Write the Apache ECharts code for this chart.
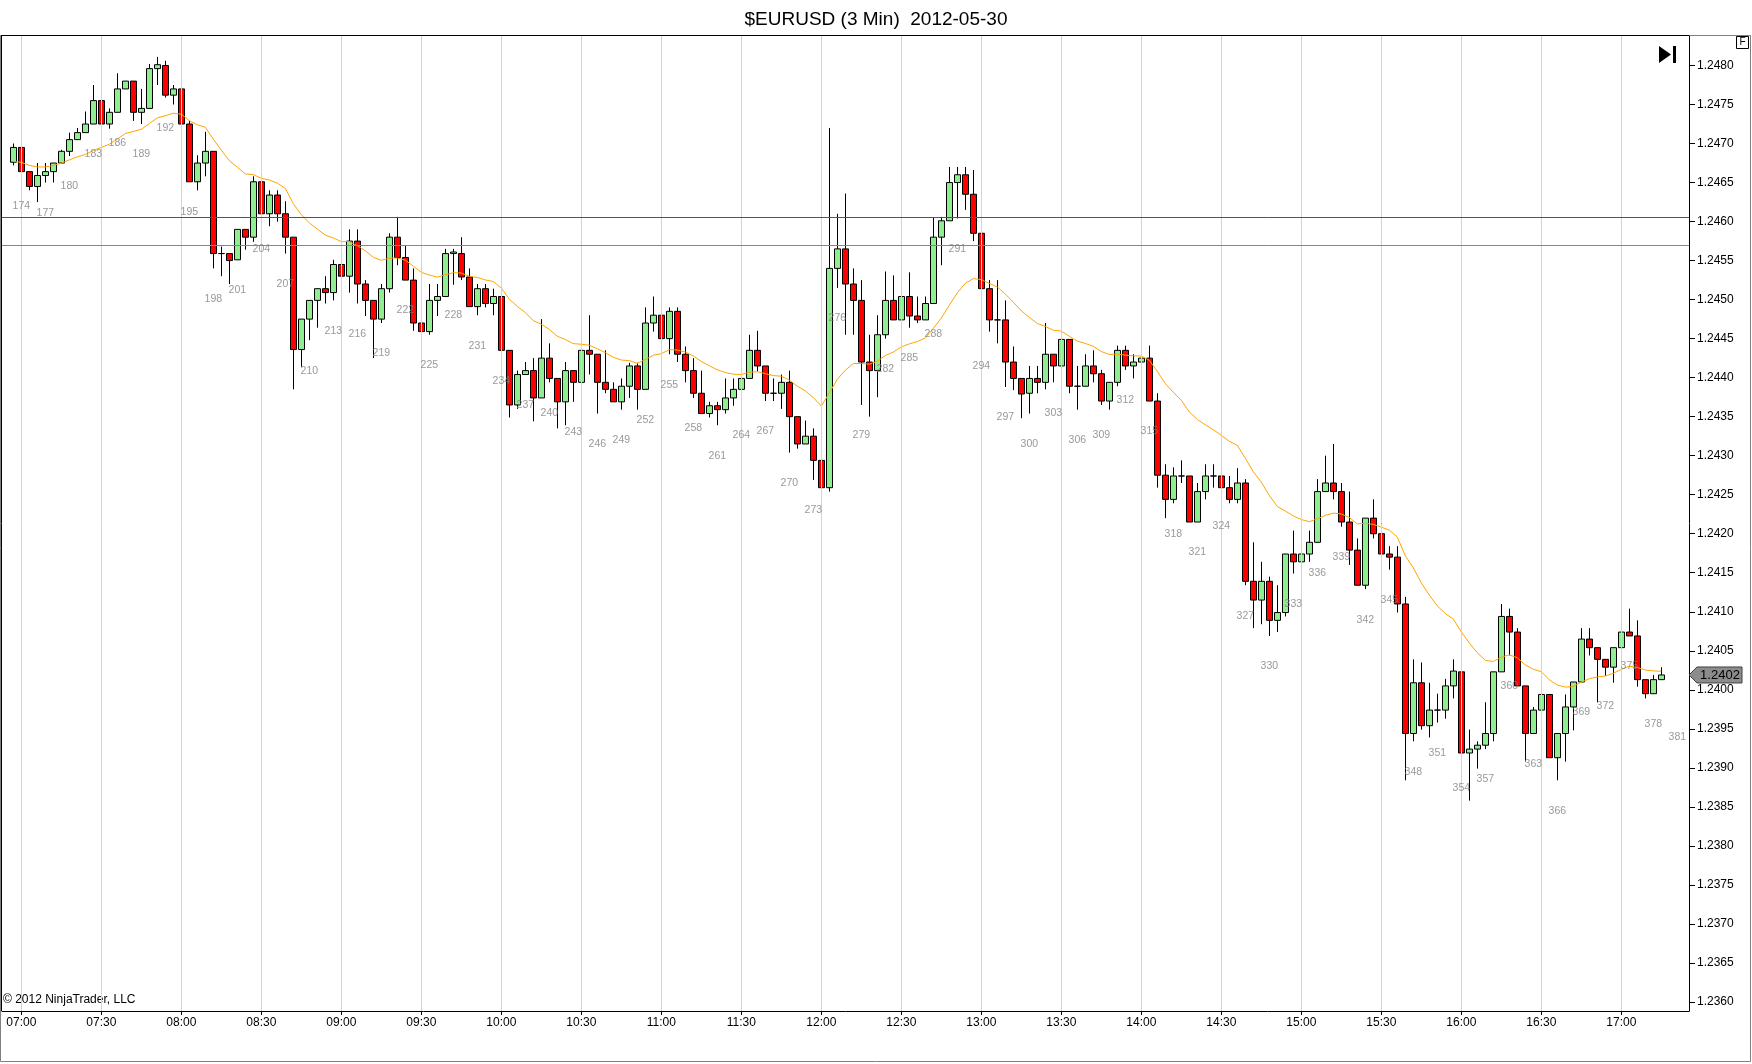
<!DOCTYPE html>
<html><head><meta charset="utf-8">
<script src="https://cdn.jsdelivr.net/npm/echarts@6/dist/echarts.min.js"></script>
<style>html,body{margin:0;padding:0;background:#fff}#c{width:1752px;height:1064px}</style>
</head><body><div id="c"></div>
<script>
// ---------------- data (bar numbers 173..379, 3-minute bars) ----------------
const firstBar = 173;
const opens = [
1.24676,1.24695,1.24664,1.24645,1.24659,1.24664,1.24675,1.24690,1.24705,1.24714,
1.24725,1.24755,1.24725,1.24740,1.24770,1.24780,1.24740,1.24745,1.24796,1.24800,
1.24762,1.24770,1.24725,1.24651,1.24675,1.24690,1.24559,1.24559,1.24551,1.24590,
1.24580,1.24651,1.24610,1.24634,1.24610,1.24580,1.24436,1.24475,1.24499,1.24514,
1.24509,1.24545,1.24530,1.24575,1.24520,1.24499,1.24475,1.24514,1.24580,1.24554,
1.24525,1.24470,1.24459,1.24499,1.24504,1.24559,1.24559,1.24529,1.24491,1.24514,
1.24495,1.24504,1.24435,1.24365,1.24404,1.24409,1.24374,1.24425,1.24399,1.24369,
1.24409,1.24394,1.24435,1.24430,1.24394,1.24385,1.24369,1.24389,1.24415,1.24385,
1.24470,1.24480,1.24450,1.24485,1.24430,1.24409,1.24380,1.24354,1.24364,1.24359,
1.24374,1.24385,1.24399,1.24435,1.24415,1.24380,1.24380,1.24394,1.24350,1.24315,
1.24325,1.24294,1.24259,1.24540,1.24565,1.24520,1.24499,1.24420,1.24409,1.24455,
1.24499,1.24474,1.24504,1.24479,1.24474,1.24495,1.24580,1.24601,1.24650,1.24660,
1.24635,1.24585,1.24514,1.24474,1.24474,1.24420,1.24399,1.24380,1.24399,1.24394,
1.24430,1.24415,1.24449,1.24389,1.24389,1.24415,1.24405,1.24370,1.24394,1.24435,
1.24415,1.24420,1.24425,1.24370,1.24275,1.24244,1.24274,1.24274,1.24215,1.24254,
1.24274,1.24274,1.24259,1.24244,1.24265,1.24139,1.24115,1.24139,1.24089,1.24099,
1.24174,1.24164,1.24174,1.24189,1.24254,1.24265,1.24254,1.24215,1.24179,1.24134,
1.24220,1.24200,1.24174,1.24170,1.24110,1.23944,1.24009,1.23954,1.23974,1.23974,
1.24005,1.24023,1.23919,1.23924,1.23929,1.23944,1.24023,1.24094,1.24074,1.24005,
1.23944,1.23974,1.23994,1.23913,1.23944,1.23978,1.24010,1.24065,1.24054,1.24039,
1.24029,1.24054,1.24074,1.24069,1.24013,1.23995,1.24013
];
const highs = [
1.24700,1.24695,1.24664,1.24675,1.24675,1.24675,1.24692,1.24714,1.24720,1.24741,
1.24775,1.24755,1.24745,1.24790,1.24780,1.24780,1.24770,1.24802,1.24811,1.24806,
1.24775,1.24772,1.24729,1.24685,1.24715,1.24690,1.24568,1.24559,1.24590,1.24590,
1.24658,1.24658,1.24640,1.24640,1.24626,1.24580,1.24475,1.24499,1.24514,1.24530,
1.24551,1.24601,1.24590,1.24590,1.24525,1.24499,1.24520,1.24585,1.24606,1.24570,
1.24540,1.24491,1.24520,1.24520,1.24565,1.24565,1.24580,1.24540,1.24520,1.24520,
1.24514,1.24509,1.24435,1.24409,1.24420,1.24425,1.24475,1.24444,1.24399,1.24420,
1.24409,1.24444,1.24480,1.24430,1.24435,1.24394,1.24399,1.24419,1.24419,1.24490,
1.24504,1.24499,1.24490,1.24490,1.24440,1.24425,1.24409,1.24369,1.24369,1.24399,
1.24399,1.24399,1.24455,1.24460,1.24415,1.24399,1.24404,1.24409,1.24350,1.24345,
1.24335,1.24299,1.24720,1.24610,1.24636,1.24540,1.24525,1.24455,1.24480,1.24536,
1.24531,1.24525,1.24535,1.24504,1.24504,1.24605,1.24606,1.24670,1.24670,1.24670,
1.24666,1.24605,1.24525,1.24525,1.24499,1.24440,1.24399,1.24415,1.24415,1.24470,
1.24430,1.24455,1.24449,1.24415,1.24430,1.24435,1.24410,1.24394,1.24441,1.24441,
1.24430,1.24430,1.24441,1.24380,1.24289,1.24285,1.24294,1.24274,1.24265,1.24289,
1.24289,1.24285,1.24274,1.24284,1.24270,1.24189,1.24164,1.24145,1.24134,1.24174,
1.24204,1.24194,1.24204,1.24270,1.24300,1.24315,1.24265,1.24254,1.24194,1.24220,
1.24244,1.24220,1.24184,1.24184,1.24119,1.24039,1.24035,1.24009,1.23995,1.24014,
1.24039,1.24028,1.23949,1.23934,1.23984,1.24023,1.24110,1.24104,1.24079,1.24005,
1.23978,1.24005,1.23994,1.23944,1.23994,1.24010,1.24079,1.24079,1.24054,1.24039,
1.24054,1.24095,1.24104,1.24089,1.24013,1.24019,1.24029
];
const lows = [
1.24672,1.24659,1.24640,1.24625,1.24650,1.24650,1.24675,1.24684,1.24705,1.24714,
1.24725,1.24719,1.24719,1.24740,1.24770,1.24729,1.24725,1.24745,1.24775,1.24759,
1.24750,1.24719,1.24651,1.24640,1.24658,1.24540,1.24530,1.24520,1.24551,1.24564,
1.24574,1.24604,1.24594,1.24600,1.24559,1.24385,1.24414,1.24448,1.24464,1.24495,
1.24499,1.24530,1.24509,1.24495,1.24479,1.24425,1.24470,1.24509,1.24544,1.24525,
1.24460,1.24444,1.24455,1.24479,1.24504,1.24519,1.24525,1.24491,1.24480,1.24490,
1.24480,1.24435,1.24349,1.24360,1.24404,1.24344,1.24374,1.24394,1.24335,1.24339,
1.24369,1.24394,1.24404,1.24354,1.24380,1.24369,1.24359,1.24374,1.24359,1.24385,
1.24459,1.24444,1.24430,1.24420,1.24394,1.24374,1.24354,1.24349,1.24339,1.24354,
1.24364,1.24365,1.24399,1.24408,1.24370,1.24370,1.24360,1.24304,1.24309,1.24315,
1.24269,1.24244,1.24254,1.24515,1.24455,1.24455,1.24365,1.24350,1.24375,1.24450,
1.24474,1.24470,1.24464,1.24470,1.24474,1.24495,1.24544,1.24601,1.24604,1.24615,
1.24575,1.24454,1.24459,1.24444,1.24388,1.24384,1.24348,1.24354,1.24380,1.24385,
1.24394,1.24415,1.24380,1.24359,1.24389,1.24394,1.24365,1.24359,1.24389,1.24410,
1.24399,1.24389,1.24370,1.24259,1.24220,1.24239,1.24265,1.24215,1.24215,1.24244,
1.24259,1.24249,1.24239,1.24239,1.24134,1.24079,1.24084,1.24069,1.24074,1.24094,
1.24149,1.24159,1.24164,1.24189,1.24254,1.24244,1.24209,1.24160,1.24134,1.24129,
1.24194,1.24164,1.24154,1.24099,1.23884,1.23934,1.23949,1.23939,1.23958,1.23963,
1.23989,1.23913,1.23858,1.23899,1.23924,1.23934,1.24023,1.24044,1.24005,1.23908,
1.23944,1.23958,1.23913,1.23884,1.23908,1.23948,1.24010,1.24044,1.23984,1.24018,
1.24009,1.24054,1.24069,1.24004,1.23989,1.23995,1.24013
];
const closes = [
1.24695,1.24664,1.24645,1.24659,1.24664,1.24675,1.24690,1.24705,1.24714,1.24725,
1.24755,1.24725,1.24740,1.24770,1.24780,1.24740,1.24745,1.24796,1.24801,1.24762,
1.24770,1.24725,1.24651,1.24675,1.24690,1.24559,1.24559,1.24550,1.24590,1.24580,
1.24651,1.24610,1.24634,1.24610,1.24580,1.24436,1.24475,1.24499,1.24514,1.24509,
1.24545,1.24530,1.24575,1.24520,1.24499,1.24475,1.24514,1.24580,1.24554,1.24525,
1.24470,1.24459,1.24499,1.24504,1.24559,1.24561,1.24529,1.24491,1.24514,1.24495,
1.24504,1.24435,1.24365,1.24404,1.24409,1.24374,1.24425,1.24399,1.24369,1.24409,
1.24394,1.24435,1.24430,1.24394,1.24385,1.24369,1.24389,1.24415,1.24385,1.24470,
1.24480,1.24450,1.24485,1.24430,1.24409,1.24380,1.24354,1.24364,1.24359,1.24374,
1.24385,1.24399,1.24435,1.24415,1.24380,1.24380,1.24394,1.24350,1.24315,1.24325,
1.24294,1.24259,1.24540,1.24565,1.24520,1.24499,1.24420,1.24409,1.24455,1.24499,
1.24474,1.24504,1.24479,1.24474,1.24495,1.24580,1.24601,1.24650,1.24660,1.24635,
1.24585,1.24514,1.24474,1.24474,1.24420,1.24399,1.24379,1.24399,1.24394,1.24430,
1.24415,1.24449,1.24389,1.24389,1.24415,1.24405,1.24370,1.24394,1.24435,1.24415,
1.24420,1.24425,1.24370,1.24275,1.24244,1.24274,1.24274,1.24215,1.24254,1.24274,
1.24274,1.24259,1.24244,1.24265,1.24139,1.24115,1.24139,1.24089,1.24099,1.24174,
1.24164,1.24174,1.24189,1.24254,1.24265,1.24254,1.24215,1.24179,1.24134,1.24220,
1.24200,1.24174,1.24170,1.24110,1.23944,1.24009,1.23954,1.23974,1.23974,1.24005,
1.24024,1.23919,1.23924,1.23929,1.23944,1.24023,1.24094,1.24074,1.24005,1.23944,
1.23974,1.23994,1.23913,1.23944,1.23978,1.24010,1.24065,1.24054,1.24039,1.24029,
1.24054,1.24074,1.24069,1.24013,1.23995,1.24013,1.24019
];
// moving-average values for the first bars (earlier bars are off-screen)
const maHead = [1.24677,1.24676,1.24672,1.24670,1.24670,1.24672,1.24675,1.24679,1.24683,1.24686,1.24691,1.24695,1.24699];
const maPeriod = 20;
const timeTickLabels = ['07:00','07:30','08:00','08:30','09:00','09:30','10:00','10:30','11:00','11:30','12:00','12:30','13:00','13:30','14:00','14:30','15:00','15:30','16:00','16:30','17:00'];
const firstTickBar = 174, barsPerTick = 10;
const priceTicks = [1.2360,1.2365,1.2370,1.2375,1.2380,1.2385,1.2390,1.2395,1.2400,1.2405,1.2410,1.2415,1.2420,1.2425,1.2430,1.2435,1.2440,1.2445,1.2450,1.2455,1.2460,1.2465,1.2470,1.2475,1.2480];
const levelLines = [1.24605, 1.24570];
const labelEvery = 3, firstLabelBar = 174;
const extraBarLabels = [[381, 1.23979]];
// -------------------------------------------------------------------------

const bars = opens.map((_, i) => firstBar + i);
const candleData = bars.map((b, i) => [b, opens[i], closes[i], lows[i], highs[i]]);
// exponential moving average of the closes, continuing from the values read at the left edge
function expMovingAverage(vals, period, head) {
  const k = 2 / (period + 1);
  const out = [];
  vals.forEach((v, i) => {
    out.push(i < head.length ? head[i] : out[i - 1] + k * (v - out[i - 1]));
  });
  return out;
}
const maVals = expMovingAverage(closes, maPeriod, maHead);
const maData = bars.map((b, i) => [b, maVals[i]]);
const timeTickBars = timeTickLabels.map((_, i) => firstTickBar + i * barsPerTick);
const labelData = bars.filter(b => b >= firstLabelBar && (b - firstLabelBar) % labelEvery === 0)
  .map(b => [b, lows[b - firstBar], b]).concat(extraBarLabels.map(e => [e[0], e[1], e[0]]));

const FONT = '"Liberation Sans", Arial, sans-serif';
const chart = echarts.init(document.getElementById('c'), null, {renderer: 'canvas'});
const option = {
  animation: false,
  backgroundColor: '#ffffff',
  title: {
    text: '$EURUSD (3 Min)  2012-05-30', left: 'center', top: 5,
    textStyle: {fontFamily: FONT, fontSize: 19, fontWeight: 'normal', color: '#000'}
  },
  grid: {left: 2, right: 63, top: 36, bottom: 53, show: false},
  xAxis: {
    type: 'value', min: 171.5875, max: 382.4625, scale: true,
    axisLine: {show: true, lineStyle: {color: '#000', width: 1}},
    axisTick: {show: true, length: 4, customValues: timeTickBars, lineStyle: {color: '#000'}},
    axisLabel: {
      customValues: timeTickBars, margin: 6,
      formatter: v => timeTickLabels[Math.round((v - firstTickBar) / barsPerTick)] || '',
      fontFamily: FONT, fontSize: 12, color: '#000'
    },
    splitLine: {show: false}
  },
  yAxis: {
    type: 'value', position: 'right', min: 1.235884, max: 1.248378, scale: true,
    axisLine: {show: true, lineStyle: {color: '#000', width: 1}},
    axisTick: {show: true, inside: false, length: 6, customValues: priceTicks, lineStyle: {color: '#000'}},
    axisLabel: {
      customValues: priceTicks, margin: 8,
      formatter: v => v.toFixed(4), fontFamily: FONT, fontSize: 12, color: '#000'
    },
    splitLine: {show: false}
  },
  series: [
    {
      type: 'line', data: [], z: 1, silent: true,
      markLine: {
        silent: true, symbol: 'none', label: {show: false}, animation: false,
        lineStyle: {color: '#d4d4d4', width: 1, type: 'solid'},
        data: timeTickBars.map(b => ({xAxis: b}))
      }
    },
    {
      type: 'candlestick', data: candleData, z: 3, barWidth: 6,
      encode: {x: 0, y: [1, 2, 3, 4]},
      itemStyle: {color: '#90ee90', color0: '#ff0000', borderColor: '#000', borderColor0: '#000', borderWidth: 1}
    },
    {
      type: 'line', data: maData, z: 4, showSymbol: false, symbol: 'none', silent: true,
      lineStyle: {color: '#ffa500', width: 1},
      markLine: {
        silent: true, symbol: 'none', label: {show: false}, animation: false, precision: 6,
        data: [
          {yAxis: levelLines[0], lineStyle: {color: '#1a7f1a', width: 1, type: 'solid'}},
          {yAxis: levelLines[1], lineStyle: {color: '#3aa8a8', width: 1, type: 'solid'}}
        ]
      }
    },
    {
      type: 'scatter', data: labelData, z: 6, symbol: 'circle', symbolSize: 2, silent: true,
      itemStyle: {color: 'rgba(0,0,0,0)'},
      labelLayout: {hideOverlap: false},
      label: {
        show: true, position: 'bottom', distance: 24,
        formatter: p => String(p.value[2]),
        fontFamily: FONT, fontSize: 10.5, color: '#808080'
      }
    }
  ],
  graphic: [
    {type: 'rect', shape: {x: 0.5, y: 35.5, width: 1750, height: 1026}, style: {fill: 'none', stroke: '#808080', lineWidth: 1}, silent: true, z: 0},
    {type: 'line', shape: {x1: 1, y1: 35.5, x2: 1689, y2: 35.5}, style: {stroke: '#000', lineWidth: 1}, silent: true},
    {type: 'line', shape: {x1: 1.5, y1: 36, x2: 1.5, y2: 1011}, style: {stroke: '#000', lineWidth: 1}, silent: true},
    {type: 'text', left: 3, top: 994, style: {text: '\u00a9 2012 NinjaTrader, LLC', font: '12px ' + FONT, fill: '#000'}, silent: true},
    {type: 'rect', shape: {x: 1736.5, y: 36.5, width: 12, height: 12}, style: {fill: '#fff', stroke: '#000', lineWidth: 1}, silent: true},
    {type: 'text', x: 1742.5, y: 42.5, style: {text: 'F', font: '10px ' + FONT, fill: '#000', align: 'center', verticalAlign: 'middle'}, silent: true},
    {type: 'polygon', shape: {points: [[1659, 46], [1659, 63], [1671, 54.5]]}, style: {fill: '#000'}, silent: true},
    {type: 'rect', shape: {x: 1673, y: 46, width: 3, height: 17}, style: {fill: '#000'}, silent: true}
  ]
};
chart.setOption(option);

// last-price tag on the price axis, placed through the axis scale
const lastClose = closes[closes.length - 1];
const yTag = chart.convertToPixel({yAxisIndex: 0}, lastClose);
const xAxisLine = chart.convertToPixel({xAxisIndex: 0}, 382.4625);
chart.setOption({graphic: option.graphic.concat([
  {type: 'polygon', shape: {points: [[xAxisLine, yTag], [xAxisLine + 8, yTag - 8], [xAxisLine + 53, yTag - 8], [xAxisLine + 53, yTag + 8], [xAxisLine + 8, yTag + 8]]},
   style: {fill: '#8c8c8c', stroke: '#404040', lineWidth: 1}, silent: true, z: 10},
  {type: 'text', x: xAxisLine + 31, y: yTag, style: {text: lastClose.toFixed(4), font: '13px ' + FONT, fill: '#000', align: 'center', verticalAlign: 'middle'}, silent: true, z: 11}
])});
</script>
</body></html>
